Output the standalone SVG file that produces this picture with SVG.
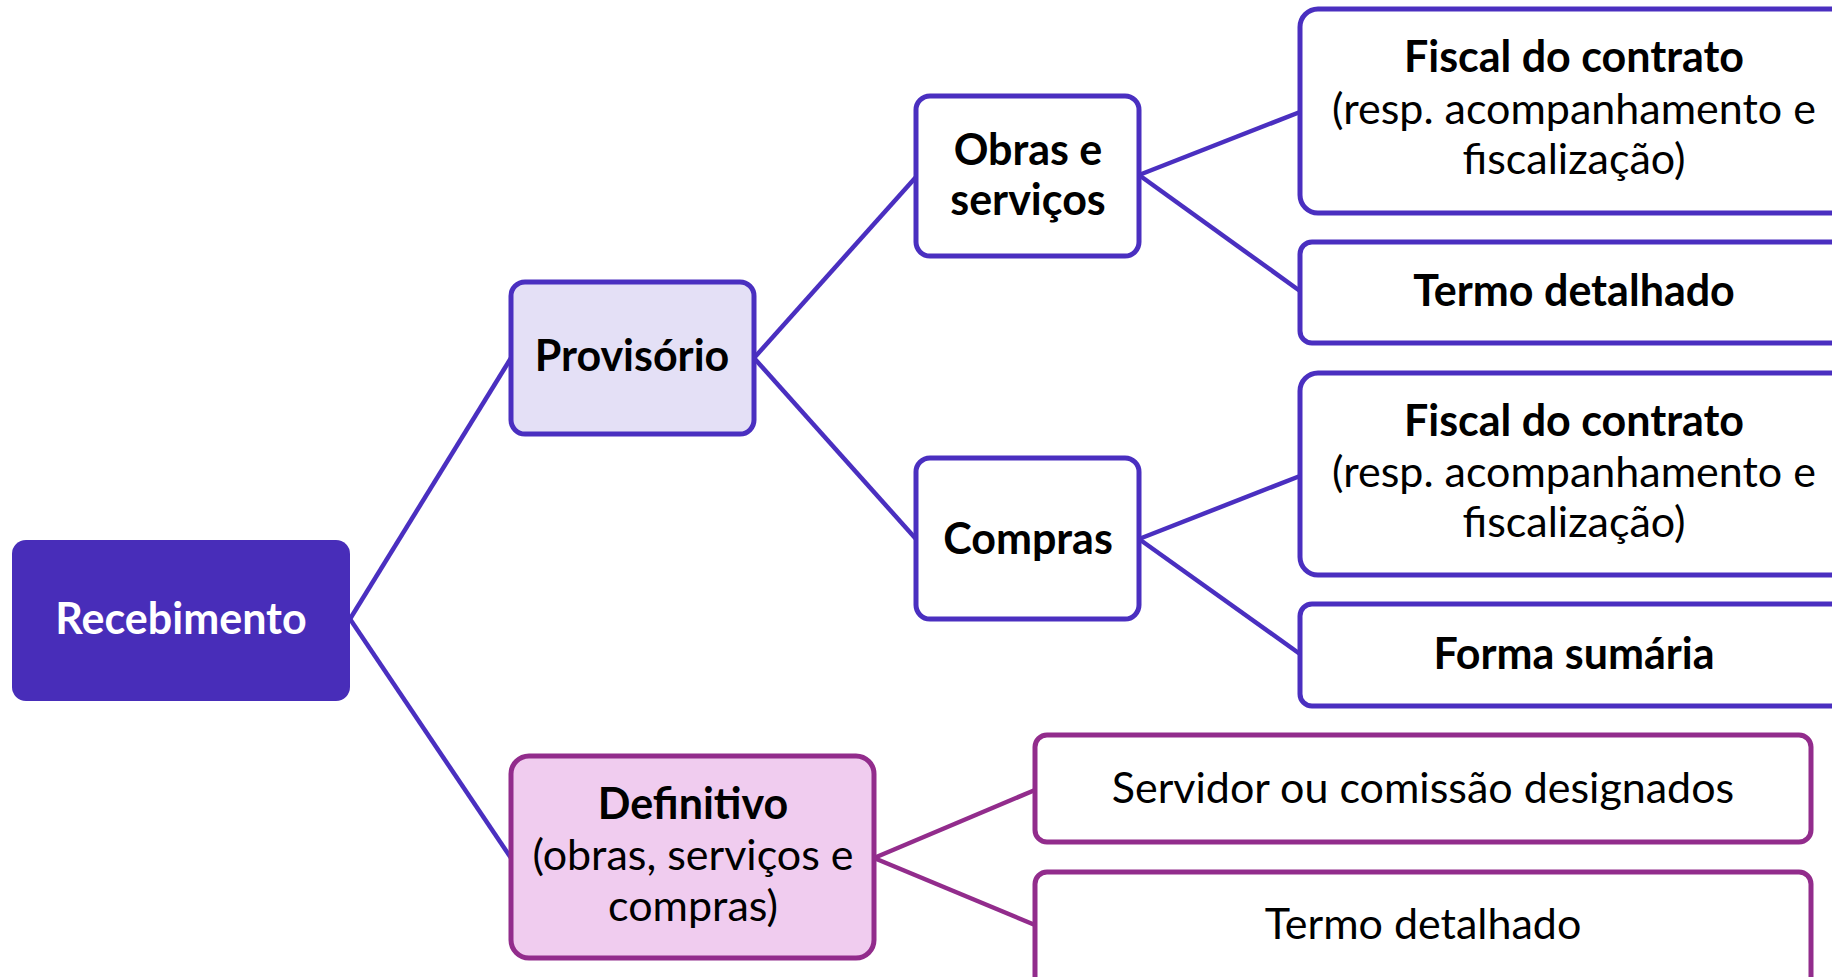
<svg xmlns="http://www.w3.org/2000/svg" width="1832" height="977" viewBox="0 0 1832 977">
<style>
.t{font-family:Lato,"Open Sans","Liberation Sans",sans-serif;font-size:43px;text-anchor:middle;fill:#000}
.b{font-weight:bold}
.n{fill:#fff;stroke:#4A2FC0;stroke-width:5}
.p{fill:#E4E0F6;stroke:#4A2FC0;stroke-width:5}
.d{fill:#F0CCEF;stroke:#922C8C;stroke-width:5}
.m{fill:#fff;stroke:#922C8C;stroke-width:5}
.cb{stroke:#4A2FC0;stroke-width:4.5;fill:none}
.cm{stroke:#922C8C;stroke-width:4.5;fill:none}
</style>
<rect width="1832" height="977" fill="#fff"/>
<g id="connectors">
<line class="cb" x1="350" y1="619" x2="511" y2="358"/>
<line class="cb" x1="350" y1="619" x2="511" y2="858"/>
<line class="cb" x1="754" y1="358" x2="916" y2="177"/>
<line class="cb" x1="754" y1="358" x2="916" y2="539"/>
<line class="cb" x1="1139" y1="175" x2="1300" y2="112"/>
<line class="cb" x1="1139" y1="175" x2="1300" y2="291"/>
<line class="cb" x1="1139" y1="539" x2="1300" y2="476"/>
<line class="cb" x1="1139" y1="539" x2="1300" y2="654"/>
<line class="cm" x1="874" y1="858" x2="1035" y2="790"/>
<line class="cm" x1="874" y1="858" x2="1035" y2="925"/>
</g>
<g id="recebimento">
<rect x="12" y="540" width="338" height="161" rx="14" fill="#482DB9"/>
<text class="t b" x="181" y="634" style="fill:#fff">Recebimento</text>
</g>
<g id="provisorio">
<rect class="p" x="511" y="282" width="243" height="152" rx="14"/>
<text class="t b" x="632" y="371">Provisório</text>
</g>
<g id="obras">
<rect class="n" x="916" y="96" width="223" height="160" rx="14"/>
<text class="t b" x="1028" y="165">Obras e</text>
<text class="t b" x="1028" y="215">serviços</text>
</g>
<g id="compras">
<rect class="n" x="916" y="458" width="223" height="161" rx="14"/>
<text class="t b" x="1028" y="554">Compras</text>
</g>
<g id="fiscal1">
<rect class="n" x="1300" y="9" width="560" height="204" rx="18"/>
<text class="t b" x="1574" y="72">Fiscal do contrato</text>
<text class="t" x="1574" y="124">(resp. acompanhamento e</text>
<text class="t" x="1574" y="174">fiscalização)</text>
</g>
<g id="termo1">
<rect class="n" x="1300" y="242" width="560" height="101" rx="12"/>
<text class="t b" x="1574" y="306">Termo detalhado</text>
</g>
<g id="fiscal2">
<rect class="n" x="1300" y="373" width="560" height="202" rx="18"/>
<text class="t b" x="1574" y="436">Fiscal do contrato</text>
<text class="t" x="1574" y="487">(resp. acompanhamento e</text>
<text class="t" x="1574" y="537">fiscalização)</text>
</g>
<g id="forma">
<rect class="n" x="1300" y="604" width="560" height="102" rx="12"/>
<text class="t b" x="1574" y="669">Forma sumária</text>
</g>
<g id="definitivo">
<rect class="d" x="511" y="756" width="363" height="202" rx="18"/>
<text class="t b" x="693" y="819">Definitivo</text>
<text class="t" x="693" y="870">(obras, serviços e</text>
<text class="t" x="693" y="921">compras)</text>
</g>
<g id="servidor">
<rect class="m" x="1035" y="735" width="776" height="107" rx="12"/>
<text class="t" x="1423" y="803">Servidor ou comissão designados</text>
</g>
<g id="termo2">
<rect class="m" x="1035" y="872" width="776" height="120" rx="12"/>
<text class="t" x="1423" y="939">Termo detalhado</text>
</g>
</svg>
